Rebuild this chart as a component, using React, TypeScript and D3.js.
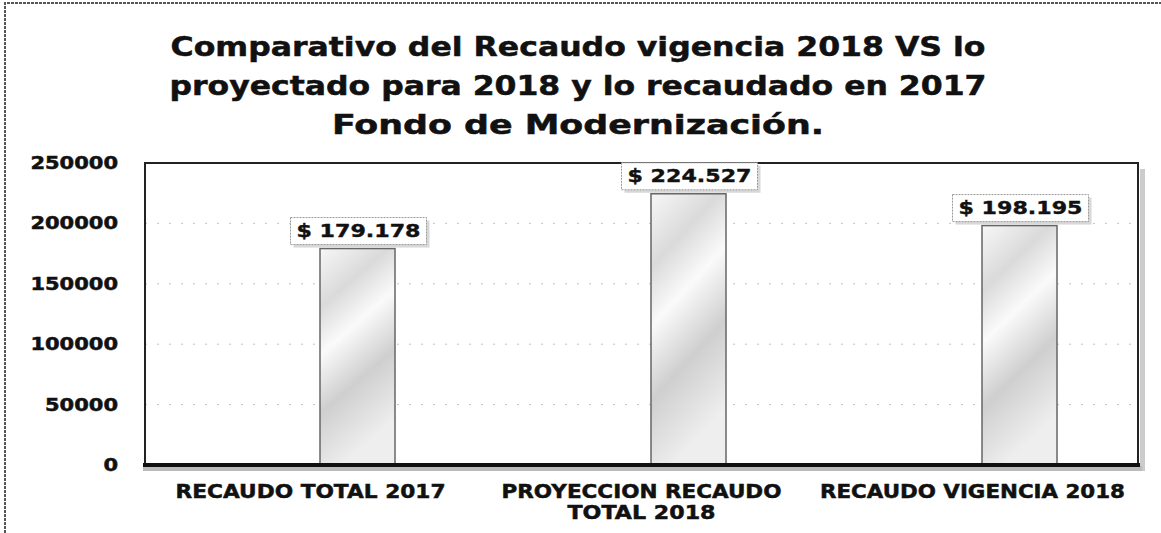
import React, { useEffect, useRef } from "react";
import { select, scaleBand, scaleLinear } from "d3";

// data
const categories = [
  ["RECAUDO TOTAL 2017"],
  ["PROYECCION RECAUDO", "TOTAL  2018"],
  ["RECAUDO VIGENCIA 2018"]
];
const values = [179178, 224527, 198195];
const valueLabels = ["$ 179.178", "$ 224.527", "$ 198.195"];
const yTicks = [0, 50000, 100000, 150000, 200000, 250000];
const titleLines = [
  "Comparativo del Recaudo vigencia 2018 VS lo",
  "proyectado para 2018 y lo recaudado en 2017",
  "Fondo de Modernización."
];

const W = 1161;
const H = 533;
const FONT = "'DejaVu Sans', Verdana, sans-serif";

function App() {
  const svgRef = useRef<SVGSVGElement>(null);

  useEffect(() => {
    const svg = select(svgRef.current);
    svg.selectAll("*").remove();

    const left = 145;
    const right = 1138;
    const top = 163;
    const bottom = 465;

    const x = scaleBand<number>()
      .domain(categories.map((_, i) => i))
      .range([left, right]);
    const y = scaleLinear().domain([0, 250000]).range([bottom, top]);

    const barW = 75;
    const barShift = 47; // the bars sit right of the category labels in the scan
    const barX = (i: number) =>
      (x(i) as number) + x.bandwidth() / 2 - barW / 2 + barShift;

    const defs = svg.append("defs");
    const grad = defs
      .append("linearGradient")
      .attr("id", "barFill")
      .attr("x1", 0)
      .attr("y1", 0)
      .attr("x2", 0.3)
      .attr("y2", 1);
    [
      [0, "#f7f7f7"],
      [0.25, "#dadada"],
      [0.45, "#fafafa"],
      [0.7, "#cfcfcf"],
      [1, "#eeeeee"]
    ].forEach(([o, c]) =>
      grad.append("stop").attr("offset", o as number).attr("stop-color", c as string)
    );

    // outer frame (only left and top edges show in the scan)
    svg
      .append("path")
      .attr("d", `M5,${H} V3 H${W}`)
      .attr("fill", "none")
      .attr("stroke", "#555")
      .attr("stroke-width", 2)
      .attr("stroke-dasharray", "3 1");

    // title
    svg
      .append("g")
      .selectAll("text")
      .data(titleLines)
      .join("text")
      .attr("x", 578)
      .attr("y", (_, i) => 56 + i * 39)
      .attr("text-anchor", "middle")
      .attr("font-family", FONT)
      .attr("font-weight", "bold")
      .attr("font-size", 27)
      .attr("textLength", (_, i) => [815, 817, 492][i])
      .attr("lengthAdjust", "spacingAndGlyphs")
      .attr("fill", "#111")
      .attr("stroke", "#111")
      .attr("stroke-width", 0.5)
      .text(d => d);

    // faint gridlines
    svg
      .append("g")
      .selectAll("line")
      .data(yTicks.slice(1, -1))
      .join("line")
      .attr("x1", left)
      .attr("x2", right)
      .attr("y1", d => y(d))
      .attr("y2", d => y(d))
      .attr("stroke", "#c4c4c4")
      .attr("stroke-width", 1)
      .attr("stroke-dasharray", "2 10");

    // plot border
    svg
      .append("rect")
      .attr("x", left)
      .attr("y", top)
      .attr("width", right - left)
      .attr("height", bottom - top)
      .attr("fill", "none")
      .attr("stroke", "#222")
      .attr("stroke-width", 2);

    // shadow to the right of the plot
    svg
      .append("rect")
      .attr("x", right + 2)
      .attr("y", top + 6)
      .attr("width", 5)
      .attr("height", bottom - top)
      .attr("fill", "#ccc");

    // bars
    svg
      .append("g")
      .selectAll("rect")
      .data(values)
      .join("rect")
      .attr("x", (_, i) => barX(i))
      .attr("y", d => y(d))
      .attr("width", barW)
      .attr("height", d => bottom - y(d))
      .attr("fill", "url(#barFill)")
      .attr("stroke", "#666")
      .attr("stroke-width", 1.5);

    // value label boxes
    const lab = svg
      .append("g")
      .selectAll("g")
      .data(values)
      .join("g")
      .attr(
        "transform",
        (d, i) => `translate(${barX(i) + barW / 2},${y(d) - 2})`
      );
    lab
      .append("rect")
      .attr("x", -64)
      .attr("y", -26)
      .attr("width", 136)
      .attr("height", 27)
      .attr("fill", "#d8d8d8");
    lab
      .append("rect")
      .attr("x", -67)
      .attr("y", -29)
      .attr("width", 136)
      .attr("height", 27)
      .attr("fill", "#fff")
      .attr("stroke", "#999")
      .attr("stroke-dasharray", "2 1");
    lab
      .append("text")
      .attr("x", 1)
      .attr("y", -10)
      .attr("text-anchor", "middle")
      .attr("font-family", FONT)
      .attr("font-weight", "bold")
      .attr("font-size", 18)
      .attr("textLength", 124)
      .attr("lengthAdjust", "spacingAndGlyphs")
      .attr("fill", "#111")
      .attr("stroke", "#111")
      .attr("stroke-width", 0.4)
      .text((_, i) => valueLabels[i]);

    // x axis line (thick, with shadow)
    svg
      .append("rect")
      .attr("x", left - 2)
      .attr("y", bottom + 1)
      .attr("width", right - left + 6)
      .attr("height", 5)
      .attr("fill", "#bbb");
    svg
      .append("line")
      .attr("x1", left - 2)
      .attr("x2", right + 2)
      .attr("y1", bottom)
      .attr("y2", bottom)
      .attr("stroke", "#111")
      .attr("stroke-width", 4);

    // y tick labels
    svg
      .append("g")
      .selectAll("text")
      .data(yTicks)
      .join("text")
      .attr("x", 118)
      .attr("y", d => y(d) + 6)
      .attr("text-anchor", "end")
      .attr("font-family", FONT)
      .attr("font-weight", "bold")
      .attr("font-size", 17)
      .attr("textLength", d => String(d).length * 14.6)
      .attr("lengthAdjust", "spacingAndGlyphs")
      .attr("fill", "#111")
      .attr("stroke", "#111")
      .attr("stroke-width", 0.5)
      .text(d => String(d));

    // category labels
    const cat = svg
      .append("g")
      .selectAll("text")
      .data(categories)
      .join("text")
      .attr("text-anchor", "middle")
      .attr("font-family", FONT)
      .attr("font-weight", "bold")
      .attr("font-size", 19)
      .attr("fill", "#111")
      .attr("stroke", "#111")
      .attr("stroke-width", 0.5);
    cat
      .selectAll("tspan")
      .data((d, i) => d.map(t => ({ t, i })))
      .join("tspan")
      .attr("x", d => (x(d.i) as number) + x.bandwidth() / 2)
      .attr("y", (_, j) => 498 + j * 21)
      .attr("textLength", d =>
        d.t === "TOTAL  2018" ? 148 : [270, 280, 305][d.i]
      )
      .attr("lengthAdjust", "spacingAndGlyphs")
      .text(d => d.t);
  }, []);

  return (
    <svg
      ref={svgRef}
      width={W}
      height={H}
      style={{ position: "absolute", left: 0, top: 0, background: "#fff" }}
    />
  );
}

export default App;
